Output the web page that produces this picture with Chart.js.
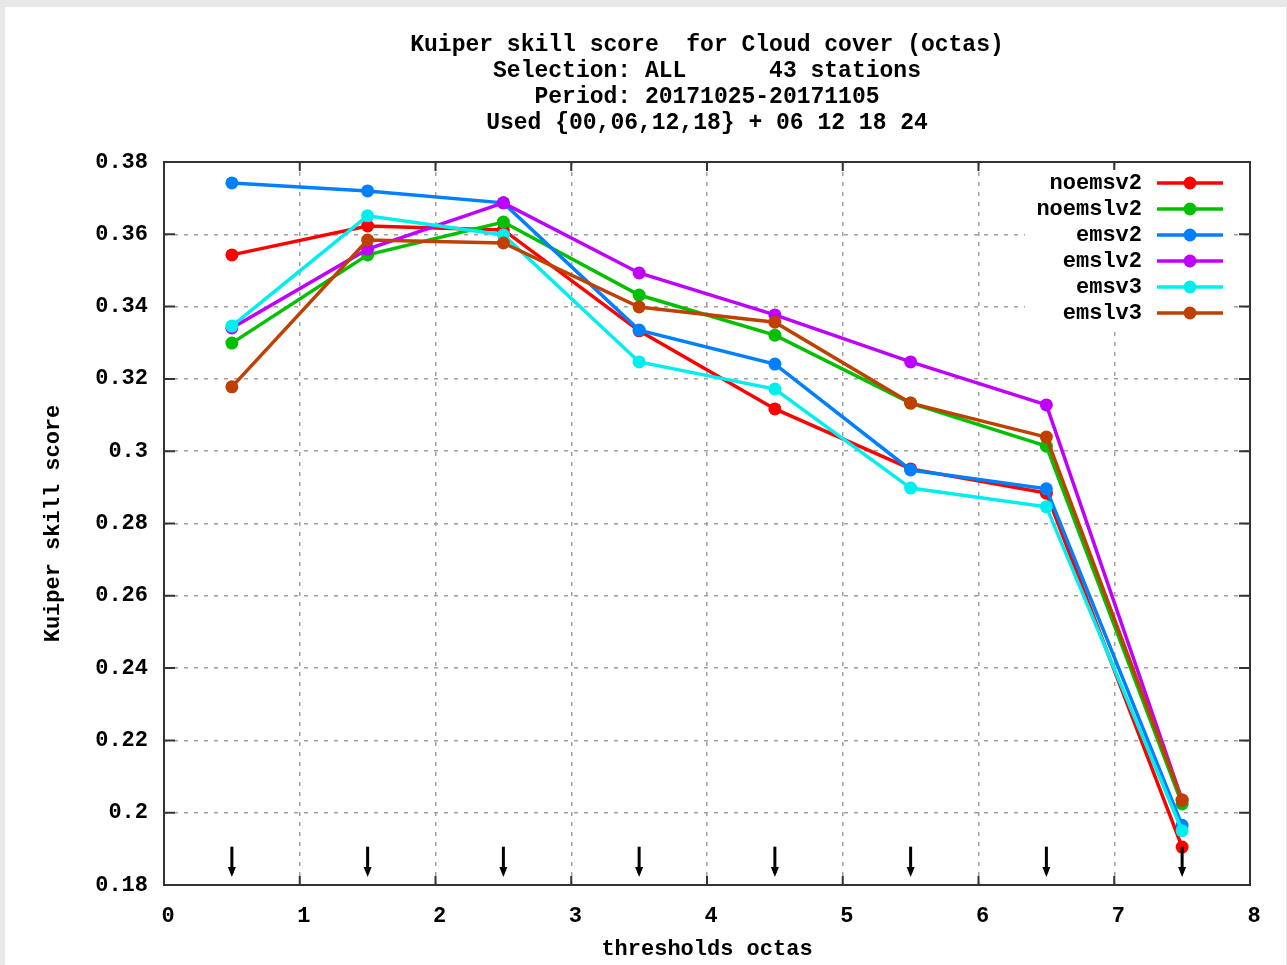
<!DOCTYPE html>
<html>
<head>
<meta charset="utf-8">
<script src="https://cdn.jsdelivr.net/npm/chart.js@4.4.1/dist/chart.umd.min.js"></script>
<style>
  html, body { margin: 0; padding: 0; background: #e8e8e8; }
  #wrap { position: absolute; left: 5px; top: 7px; width: 1281px; height: 958px; background: #ffffff; }
</style>
</head>
<body>
<div id="wrap"><canvas id="chart" width="1281" height="958"></canvas></div>
<script>
// Kuiper skill score - cloud cover thresholds

const thresholds = [0.5, 1.5, 2.5, 3.5, 4.5, 5.5, 6.5, 7.5];

const seriesNames = ['noemsv2', 'noemslv2', 'emsv2', 'emslv2', 'emsv3', 'emslv3'];
const seriesColors = ['#ff0000', '#00c000', '#0080ff', '#c000ff', '#00eeee', '#c04000'];

const noemsv2  = [0.3543, 0.3623, 0.3612, 0.3333, 0.3117, 0.2951, 0.2884, 0.1905];
const noemslv2 = [0.3299, 0.3543, 0.3634, 0.3432, 0.3321, 0.3133, 0.3014, 0.2024];
const emsv2    = [0.3742, 0.3720, 0.3687, 0.3335, 0.3241, 0.2948, 0.2896, 0.1965];
const emslv2   = [0.3341, 0.3559, 0.3687, 0.3493, 0.3377, 0.3247, 0.3128, 0.2035];
const emsv3    = [0.3346, 0.3651, 0.3598, 0.3247, 0.3172, 0.2898, 0.2846, 0.1950];
const emslv3   = [0.3178, 0.3584, 0.3576, 0.3399, 0.3357, 0.3133, 0.3039, 0.2035];

const seriesValues = [noemsv2, noemslv2, emsv2, emslv2, emsv3, emslv3];

const xTickValues = [0, 1, 2, 3, 4, 5, 6, 7, 8];
const yTickValues = [0.18, 0.20, 0.22, 0.24, 0.26, 0.28, 0.30, 0.32, 0.34, 0.36, 0.38];

// markers at bottom of the plot (from value to value, pointing down)
const arrowX = [0.5, 1.5, 2.5, 3.5, 4.5, 5.5, 6.5, 7.5];
const arrowFrom = 0.1906;
const arrowTo = 0.1822;

const titleLines = [
    'Kuiper skill score  for Cloud cover (octas)',
    'Selection: ALL      43 stations',
    'Period: 20171025-20171105',
    'Used {00,06,12,18} + 06 12 18 24'
];
const xTitle = 'thresholds octas';
const yTitle = 'Kuiper skill score';

const FONT = '"Liberation Mono", "DejaVu Sans Mono", monospace';

const datasets = seriesNames.map((name, i) => ({
    label: name,
    data: thresholds.map((x, j) => ({ x: x, y: seriesValues[i][j] })),
    borderColor: seriesColors[i],
    backgroundColor: seriesColors[i],
    borderWidth: 3.5,
    pointRadius: 6.5,
    pointStyle: 'circle',
    pointBorderWidth: 0,
    tension: 0,
    order: seriesNames.length - i
}));

// gnuplot-like extras: titles, frame, inward ticks, arrows, key
const gnuplotDecor = {
    id: 'gnuplotDecor',
    afterDatasetsDraw(chart) {
        const ctx = chart.ctx;
        const area = chart.chartArea;
        const xs = chart.scales.x;
        const ys = chart.scales.y;

        ctx.save();
        // arrows
        ctx.strokeStyle = '#000';
        ctx.fillStyle = '#000';
        ctx.lineWidth = 3;
        arrowX.forEach(v => {
            const px = xs.getPixelForValue(v);
            const y1 = ys.getPixelForValue(arrowFrom);
            const y2 = ys.getPixelForValue(arrowTo);
            ctx.beginPath();
            ctx.moveTo(px, y1);
            ctx.lineTo(px, y2 - 4);
            ctx.stroke();
            ctx.beginPath();
            ctx.moveTo(px - 4, y2 - 10);
            ctx.lineTo(px + 4, y2 - 10);
            ctx.lineTo(px, y2);
            ctx.closePath();
            ctx.fill();
        });

        // frame
        ctx.strokeStyle = '#333';
        ctx.lineWidth = 2;
        ctx.strokeRect(area.left, area.top, area.right - area.left, area.bottom - area.top);

        // inward ticks
        ctx.lineWidth = 2;
        yTickValues.forEach(v => {
            const py = ys.getPixelForValue(v);
            ctx.beginPath();
            ctx.moveTo(area.left, py); ctx.lineTo(area.left + 11, py);
            ctx.moveTo(area.right, py); ctx.lineTo(area.right - 11, py);
            ctx.stroke();
        });
        xTickValues.forEach(v => {
            const px = xs.getPixelForValue(v);
            ctx.beginPath();
            ctx.moveTo(px, area.bottom); ctx.lineTo(px, area.bottom - 9);
            ctx.moveTo(px, area.top); ctx.lineTo(px, area.top + 9);
            ctx.stroke();
        });

        // key
        const keyRight = 1137, keyTop = 176, rowH = 26;
        ctx.fillStyle = '#fff';
        ctx.fillRect(1020, keyTop - 13, 205, rowH * seriesNames.length);
        ctx.font = 'bold 22px ' + FONT;
        ctx.textAlign = 'right';
        ctx.textBaseline = 'middle';
        seriesNames.forEach((name, i) => {
            const y = keyTop + i * rowH;
            ctx.fillStyle = '#000';
            ctx.fillText(name, keyRight, y);
            ctx.strokeStyle = seriesColors[i];
            ctx.lineWidth = 3.5;
            ctx.beginPath();
            ctx.moveTo(keyRight + 15, y); ctx.lineTo(keyRight + 81, y);
            ctx.stroke();
            ctx.fillStyle = seriesColors[i];
            ctx.beginPath();
            ctx.arc(keyRight + 48, y, 6.5, 0, Math.PI * 2);
            ctx.fill();
        });

        // titles
        ctx.fillStyle = '#000';
        ctx.textAlign = 'center';
        ctx.font = 'bold 23px ' + FONT;
        const cx = (area.left + area.right) / 2;
        titleLines.forEach((t, i) => ctx.fillText(t, cx, 38 + i * 26));
        ctx.font = 'bold 22px ' + FONT;
        ctx.fillText(xTitle, cx, 942);
        ctx.translate(48, (area.top + area.bottom) / 2);
        ctx.rotate(-Math.PI / 2);
        ctx.fillText(yTitle, 0, 0);
        ctx.restore();
    }
};

new Chart(document.getElementById('chart'), {
    type: 'line',
    data: { datasets: datasets },
    options: {
        responsive: false,
        animation: false,
        layout: { padding: { top: 155, right: 36, bottom: 0, left: 0 } },
        plugins: { legend: { display: false }, tooltip: { enabled: false } },
        scales: {
            x: {
                type: 'linear', min: 0, max: 8,
                afterBuildTicks: s => { s.ticks = xTickValues.map(v => ({ value: v })); },
                afterFit: s => { s.height = 80; },
                ticks: {
                    padding: 18, labelOffset: 4, color: '#000',
                    font: { family: FONT, size: 22, weight: 'bold' },
                    callback: v => String(v)
                },
                grid: { color: '#a0a0a0', lineWidth: 1.5, drawTicks: false },
                border: { display: false, dash: [4, 6] }
            },
            y: {
                type: 'linear', min: 0.18, max: 0.38,
                afterBuildTicks: s => { s.ticks = yTickValues.map(v => ({ value: v })); },
                afterFit: s => { s.width = 159; },
                ticks: {
                    padding: 16, color: '#000',
                    font: { family: FONT, size: 22, weight: 'bold' },
                    callback: v => String(Number(v.toFixed(2)))
                },
                grid: { color: '#a0a0a0', lineWidth: 1.5, drawTicks: false },
                border: { display: false, dash: [4, 6] }
            }
        }
    },
    plugins: [gnuplotDecor]
});
</script>
</body>
</html>
